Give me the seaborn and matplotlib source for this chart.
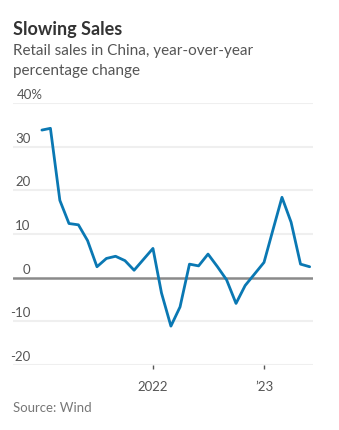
import matplotlib
matplotlib.use("Agg")
import matplotlib.pyplot as plt
import matplotlib.transforms as mtransforms
import seaborn as sns
import pandas as pd

months = ["2021-02", "2021-03", "2021-04", "2021-05", "2021-06", "2021-07", "2021-08",
          "2021-09", "2021-10", "2021-11", "2021-12",
          "2022-02", "2022-03", "2022-04", "2022-05", "2022-06", "2022-07", "2022-08",
          "2022-09", "2022-10", "2022-11", "2022-12",
          "2023-02", "2023-03", "2023-04", "2023-05", "2023-06", "2023-07"]
values = [33.8, 34.2, 17.7, 12.4, 12.1, 8.5, 2.5, 4.4, 4.9, 3.9, 1.7,
          6.7, -3.5, -11.1, -6.7, 3.1, 2.7, 5.4, 2.5, -0.5, -5.9, -1.8,
          3.5, 10.6, 18.4, 12.7, 3.1, 2.5]
y_ticks = [-20, -10, 0, 10, 20, 30, 40]
y_labels = ["-20", "-10", "0", "10", "20", "30", "40%"]
x_tick_dates = ["2022-02-01", "2023-02-01"]
x_tick_labels = ["2022", "\u201923"]

df = pd.DataFrame({"date": pd.to_datetime(months), "value": values})

sns.set_style("white")
plt.rcParams["font.family"] = ["Lato", "DejaVu Sans"]

W, H = 339, 431
fig = plt.figure(figsize=(W / 100, H / 100), dpi=100)
ax = fig.add_axes([13 / W, (H - 366) / H, 300 / W, (366 - 104) / H])

for t in y_ticks:
    if t == 0:
        continue
    ax.axhline(t, color="#efefef", lw=1.5, zorder=0)
ax.axhline(0, color="#8a8a8a", lw=1.8, zorder=1)

sns.lineplot(data=df, x="date", y="value", ax=ax, color="#0a78b3", lw=2, zorder=3)

ax.set_ylim(-20, 40)
ax.set_xlim(pd.Timestamp("2020-10-29"), pd.Timestamp("2023-07-12"))
for s in ax.spines.values():
    s.set_visible(False)
ax.set_ylabel("")
ax.set_xlabel("")
ax.set_yticks([])

ax.set_xticks(pd.to_datetime(x_tick_dates))
ax.set_xticklabels(x_tick_labels)
ax.tick_params(axis="x", length=3, width=1, color="#555555", pad=8,
               labelsize=9.5, labelcolor="#555555", direction="out", bottom=True)

trans = mtransforms.blended_transform_factory(ax.transAxes, ax.transData)
off = mtransforms.offset_copy(trans, fig=fig, x=0, y=3, units="dots")
for t, lab in zip(y_ticks, y_labels):
    if lab.endswith("%"):
        ax.text(4 / 300, t, lab, transform=off, ha="left", va="bottom",
                fontsize=9.5, color="#555555")
    else:
        ax.text(17.5 / 300, t, lab, transform=off, ha="right", va="bottom",
                fontsize=9.5, color="#555555")

fig.text(13 / W, 1 - 35 / H, "Slowing Sales", fontsize=13, fontweight="bold",
         color="#333333", ha="left", va="baseline")
fig.text(13 / W, 1 - 55 / H, "Retail sales in China, year-over-year", fontsize=11,
         color="#555555", ha="left", va="baseline")
fig.text(13 / W, 1 - 75 / H, "percentage change", fontsize=11,
         color="#555555", ha="left", va="baseline")
fig.text(13 / W, 1 - 412 / H, "Source: Wind", fontsize=9.5,
         color="#777777", ha="left", va="baseline")

fig.savefig("out.png", dpi=100)
